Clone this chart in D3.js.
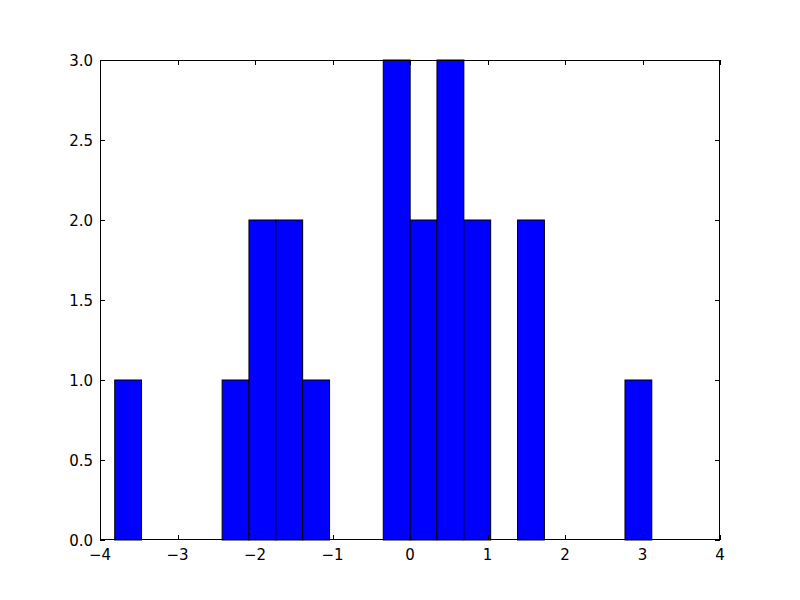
<!DOCTYPE html>
<html><head><meta charset="utf-8">
<script src="https://cdn.jsdelivr.net/npm/d3@7"></script>
<style>body{margin:0;background:#fff}svg{display:block}</style>
</head><body>
<script>
const binEdges = [-3.810,-3.464,-3.117,-2.770,-2.424,-2.078,-1.731,-1.385,-1.038,-0.692,-0.345,0.002,0.348,0.695,1.041,1.388,1.734,2.081,2.427,2.774,3.120];
const counts = [1,0,0,0,1,2,2,1,0,0,3,2,3,2,0,2,0,0,0,1];
const xTicks = [-4,-3,-2,-1,0,1,2,3,4];
const yTicks = [0,0.5,1.0,1.5,2.0,2.5,3.0];

const W=800,H=600, m={l:100,r:80,t:60,b:60};
const svg=d3.select("body").append("svg").attr("width",W).attr("height",H)
  .style("font-family","'DejaVu Sans',sans-serif").style("font-size","15px");
const x=d3.scaleLinear().domain([-4,4]).range([m.l,W-m.r]);
const y=d3.scaleLinear().domain([0,3]).range([H-m.b,m.t]);

const bins=counts.map((c,i)=>({x0:binEdges[i],x1:binEdges[i+1],c}));
svg.append("g").selectAll("rect").data(bins.filter(d=>d.c>0)).join("rect")
  .attr("x",d=>x(d.x0)).attr("y",d=>y(d.c))
  .attr("width",d=>x(d.x1)-x(d.x0)).attr("height",d=>y(0)-y(d.c))
  .attr("fill","#0000ff").attr("stroke","#000").attr("stroke-width",1);

const fmtX=d=>d<0?"\u2212"+Math.abs(d):String(d);
const tl=5;
const gx=svg.append("g");
xTicks.forEach(t=>{
  const px=Math.round(x(t))+0.5;
  gx.append("line").attr("x1",px).attr("x2",px).attr("y1",H-m.b).attr("y2",H-m.b-tl).attr("stroke","#000");
  gx.append("line").attr("x1",px).attr("x2",px).attr("y1",m.t).attr("y2",m.t+tl).attr("stroke","#000");
  gx.append("text").attr("x",x(t)).attr("y",H-m.b+20).attr("text-anchor","middle").attr("fill","#000").text(fmtX(t));
});
yTicks.forEach(t=>{
  const py=Math.round(y(t))+0.5;
  gx.append("line").attr("x1",m.l).attr("x2",m.l+tl).attr("y1",py).attr("y2",py).attr("stroke","#000");
  gx.append("line").attr("x1",W-m.r).attr("x2",W-m.r-tl).attr("y1",py).attr("y2",py).attr("stroke","#000");
  gx.append("text").attr("x",m.l-7).attr("y",y(t)+5.5).attr("text-anchor","end").attr("fill","#000").text(d3.format(".1f")(t));
});
svg.append("rect").attr("x",m.l+0.5).attr("y",m.t+0.5).attr("width",W-m.l-m.r-1).attr("height",H-m.t-m.b-1)
  .attr("fill","none").attr("stroke","#000");
</script>
</body></html>
